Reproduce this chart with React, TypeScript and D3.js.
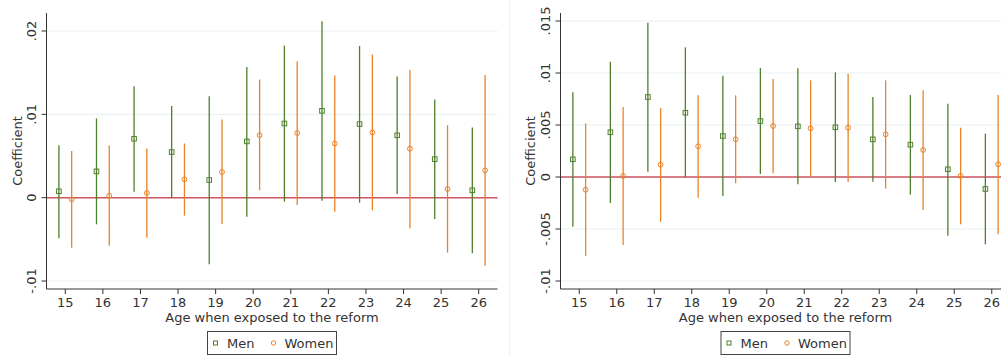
import React from 'react';
import * as d3 from 'd3';

// ages on the x axis
const ages = [15, 16, 17, 18, 19, 20, 21, 22, 23, 24, 25, 26];

// left panel: point estimate, upper and lower CI
const leftMen = [0.00077, 0.00316, 0.00707, 0.00547, 0.00212, 0.00675, 0.0089, 0.01042, 0.00883, 0.00748, 0.00462, 0.00088];
const leftMenHi = [0.0063, 0.0095, 0.01338, 0.011, 0.01218, 0.01569, 0.01825, 0.02116, 0.0182, 0.01454, 0.01178, 0.00843];
const leftMenLo = [-0.00487, -0.0032, 0.00072, -0.00004, -0.00798, -0.00228, -0.00048, -0.00036, -0.0006, 0.00044, -0.00255, -0.00666];
const leftWomen = [-0.0002, 0.00024, 0.00056, 0.0022, 0.00308, 0.0075, 0.00775, 0.0065, 0.00783, 0.00587, 0.00104, 0.00328];
const leftWomenHi = [0.0056, 0.00627, 0.0059, 0.0065, 0.00939, 0.01418, 0.01637, 0.01466, 0.01717, 0.01533, 0.0087, 0.01473];
const leftWomenLo = [-0.006, -0.00578, -0.0048, -0.00216, -0.00315, 0.00088, -0.00087, -0.00168, -0.00151, -0.00367, -0.00659, -0.00818];

// right panel
const rightMen = [0.0017, 0.0043, 0.00769, 0.00618, 0.00394, 0.00538, 0.00487, 0.00478, 0.00362, 0.00311, 0.00074, -0.00115];
const rightMenHi = [0.00814, 0.01109, 0.01484, 0.01247, 0.00974, 0.01048, 0.01045, 0.01007, 0.00769, 0.00788, 0.00705, 0.00417];
const rightMenLo = [-0.00478, -0.0025, 0.00051, -0.00003, -0.00183, 0.00029, -0.0007, -0.00048, -0.00045, -0.0017, -0.00564, -0.00647];
const rightWomen = [-0.00122, 0.0001, 0.00118, 0.00295, 0.00362, 0.0049, 0.00468, 0.00474, 0.0041, 0.0026, 0.0001, 0.00122];
const rightWomenHi = [0.00516, 0.00673, 0.00663, 0.00785, 0.00785, 0.00942, 0.0093, 0.00993, 0.0093, 0.00834, 0.00474, 0.00788];
const rightWomenLo = [-0.0076, -0.00654, -0.0043, -0.00199, -0.00061, 0.00036, 0.00003, -0.00048, -0.00112, -0.00317, -0.00455, -0.00551];

const leftTicks = [-0.01, 0, 0.01, 0.02];
const leftTickLabels = ['-.01', '0', '.01', '.02'];
const rightTicks = [-0.01, -0.005, 0, 0.005, 0.01, 0.015];
const rightTickLabels = ['-.01', '-.005', '0', '.005', '.01', '.015'];

const MEN = '#4f7f2c';
const WOMEN = '#ea8327';
const FONT = 'DejaVu Sans, sans-serif';

function Panel(props: any) {
  const { left, right, yDomain, yRange, ticks, tickLabels, titleOff, men, menHi, menLo, women, womenHi, womenLo } = props;
  const top = 13, bottom = 289;
  const x = d3.scaleLinear().domain([14.5, 26.5]).range([left, right]);
  const y = d3.scaleLinear().domain(yDomain).range(yRange);
  const off = 0.17;
  const cx = (left + right) / 2;

  return (
    <g>
      {/* grid */}
      {ticks.map((t: number) => (
        <line key={'g' + t} x1={left} x2={right} y1={y(t)} y2={y(t)} stroke="#e8f0f2" strokeWidth={1} />
      ))}
      {/* zero line */}
      <line x1={left} x2={right} y1={y(0)} y2={y(0)} stroke="#cf5560" strokeWidth={1.5} />

      {/* men */}
      {ages.map((a, i) => (
        <g key={'m' + a}>
          <line x1={x(a - off)} x2={x(a - off)} y1={y(menLo[i])} y2={y(menHi[i])} stroke={MEN} strokeWidth={1.3} />
          <rect x={x(a - off) - 2.3} y={y(men[i]) - 2.3} width={4.6} height={4.6} fill="none" stroke={MEN} strokeWidth={1} />
        </g>
      ))}
      {/* women */}
      {ages.map((a, i) => (
        <g key={'w' + a}>
          <line x1={x(a + off)} x2={x(a + off)} y1={y(womenLo[i])} y2={y(womenHi[i])} stroke={WOMEN} strokeWidth={1.3} />
          <circle cx={x(a + off)} cy={y(women[i])} r={2.4} fill="none" stroke={WOMEN} strokeWidth={1} />
        </g>
      ))}

      {/* y axis */}
      <line x1={left} x2={left} y1={top} y2={bottom} stroke="#333" strokeWidth={1} />
      {ticks.map((t: number, i: number) => (
        <g key={'yt' + t}>
          <line x1={left - 5} x2={left} y1={y(t)} y2={y(t)} stroke="#333" />
          <text transform={`translate(${left - 11},${y(t)}) rotate(-90)`} textAnchor="middle"
            fontFamily={FONT} fontSize={13} fill="#333">{tickLabels[i]}</text>
        </g>
      ))}
      <text transform={`translate(${left - titleOff},${(top + bottom) / 2}) rotate(-90)`} textAnchor="middle"
        fontFamily={FONT} fontSize={13} fill="#333">Coefficient</text>

      {/* x axis */}
      <line x1={left} x2={right} y1={bottom} y2={bottom} stroke="#333" strokeWidth={1} />
      {ages.map(a => (
        <g key={'xt' + a}>
          <line x1={x(a)} x2={x(a)} y1={bottom} y2={bottom + 5} stroke="#333" />
          <text x={x(a)} y={bottom + 18} textAnchor="middle" fontFamily={FONT} fontSize={13} fill="#333">{a}</text>
        </g>
      ))}
      <text x={cx} y={321.5} textAnchor="middle" fontFamily={FONT} fontSize={13} fill="#333">Age when exposed to the reform</text>

      {/* legend */}
      <rect x={cx - 64.5} y={331.5} width={129} height={23} fill="#fff" stroke="#444" strokeWidth={1} />
      <rect x={cx - 58.5} y={341} width={4} height={4} fill="none" stroke={MEN} strokeWidth={1} />
      <text x={cx - 45} y={347.5} fontFamily={FONT} fontSize={13} fill="#333">Men</text>
      <circle cx={cx + 1.5} cy={343} r={2.2} fill="none" stroke={WOMEN} strokeWidth={1} />
      <text x={cx + 12.5} y={347.5} fontFamily={FONT} fontSize={13} fill="#333">Women</text>
    </g>
  );
}

export default function App() {
  return (
    <svg width={1001} height={356} style={{ position: 'fixed', left: 0, top: 0, background: '#fff' }}>
      <rect x={0} y={0} width={1001} height={356} fill="#fff" />
      <line x1={509.5} x2={509.5} y1={0} y2={356} stroke="#f2f2f2" />
      <Panel left={46.5} right={497.5} yDomain={[-0.01, 0.02]} yRange={[281, 31]}
        ticks={leftTicks} tickLabels={leftTickLabels} titleOff={24.5}
        men={leftMen} menHi={leftMenHi} menLo={leftMenLo}
        women={leftWomen} womenHi={leftWomenHi} womenLo={leftWomenLo} />
      <Panel left={560.5} right={1010.5} yDomain={[-0.01, 0.015]} yRange={[281, 21]}
        ticks={rightTicks} tickLabels={rightTickLabels} titleOff={25.5}
        men={rightMen} menHi={rightMenHi} menLo={rightMenLo}
        women={rightWomen} womenHi={rightWomenHi} womenLo={rightWomenLo} />
    </svg>
  );
}
